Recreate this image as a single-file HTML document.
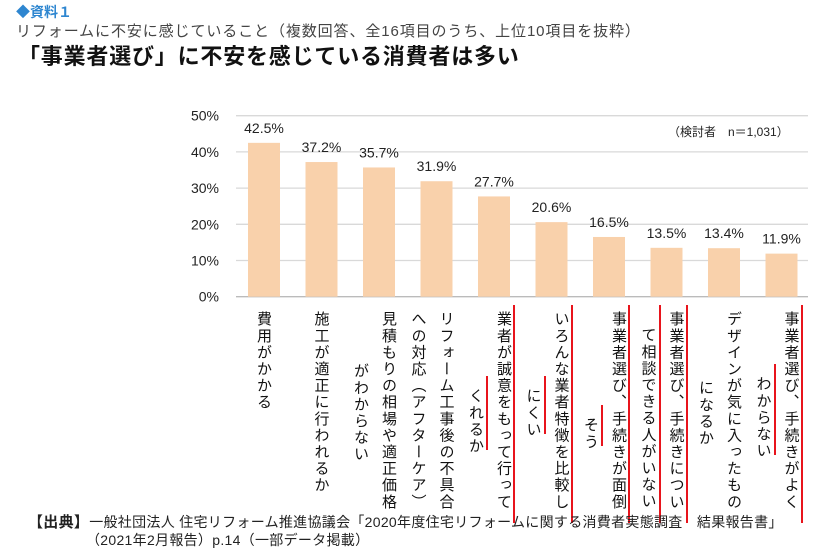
<!DOCTYPE html>
<html><head><meta charset="utf-8">
<style>
body{margin:0;width:840px;height:556px;background:#fff;overflow:hidden;font-family:"Liberation Sans","Noto Sans CJK JP",sans-serif;position:relative}
.t{position:absolute;white-space:nowrap}
.v{position:absolute;writing-mode:vertical-rl;font-size:15px;letter-spacing:1.6px;color:#111;white-space:nowrap;line-height:1}
.r{position:absolute;width:2px;background:#e8141c}
</style></head><body>
<div class="t" style="left:16px;top:2px;font-size:14px;font-weight:bold;color:#2e86d0">◆資料１</div>
<div class="t" style="left:16px;top:20px;font-size:15px;letter-spacing:0.9px;color:#444">リフォームに不安に感じていること（複数回答、全16項目のうち、上位10項目を抜粋）</div>
<div class="t" style="left:18px;top:39px;font-size:22px;letter-spacing:0.8px;font-weight:bold;color:#111">「事業者選び」に不安を感じている消費者は多い</div>
<svg id="chart" width="840" height="556" style="position:absolute;left:0;top:0"></svg>
<div class="t" style="left:668px;top:123px;font-size:12px;color:#222">（検討者　n＝1,031）</div>
<div id="labels"></div>
<div class="t" style="left:28px;top:511px;font-size:14px;letter-spacing:0.3px;color:#222"><b style="font-size:15px">【出典】</b>一般社団法人 住宅リフォーム推進協議会「2020年度住宅リフォームに関する消費者実態調査　結果報告書」</div>
<div class="t" style="left:86px;top:530px;font-size:14px;letter-spacing:0.3px;color:#222">（2021年2月報告）p.14（一部データ掲載）</div>
<script>
const categories=["費用がかかる","施工が適正に行われるか","見積もりの相場や適正価格がわからない","リフォーム工事後の不具合への対応（アフターケア）","業者が誠意をもって行ってくれるか","いろんな業者特徴を比較しにくい","事業者選び、手続きが面倒そう","事業者選び、手続きについて相談できる人がいない","デザインが気に入ったものになるか","事業者選び、手続きがよくわからない"];
const values=[42.5,37.2,35.7,31.9,27.7,20.6,16.5,13.5,13.4,11.9];
const valueLabels=["42.5%","37.2%","35.7%","31.9%","27.7%","20.6%","16.5%","13.5%","13.4%","11.9%"];
const ticks=[0,10,20,30,40,50];
const tickLabels=["0%","10%","20%","30%","40%","50%"];
const ns="http://www.w3.org/2000/svg";
const svg=document.getElementById('chart');
const y0=296.7,pxPer=3.62,x0=236,step=57.5,bw=32;
const yS=v=>y0-v*pxPer;
const xC=i=>x0+28+i*step;
function mk(t,a){const e=document.createElementNS(ns,t);for(const k in a)e.setAttribute(k,a[k]);svg.appendChild(e);return e;}
ticks.forEach((t,i)=>{
 const l=mk('line',{x1:x0,x2:808,y1:yS(t),y2:yS(t),stroke:i==0?'#bbb':'#d9d9d9','stroke-width':1.3});
 
 
 const tx=mk('text',{x:219,y:yS(t)+5,'text-anchor':'end','font-size':14,fill:'#222','font-family':'Liberation Sans, sans-serif'});
 tx.textContent=tickLabels[i];
 
 
});
values.forEach((v,i)=>{
 const r=mk('rect',{x:xC(i)-bw/2,y:yS(v),width:bw,height:y0-yS(v),fill:'#f9d1ab'});
 
 
 const tx=mk('text',{x:xC(i),y:yS(v)-10,'text-anchor':'middle','font-size':14,fill:'#222','font-family':'Liberation Sans, sans-serif'});
 tx.textContent=valueLabels[i];
 
 
});
const splits=[[6,0,0],[11,0,0],[12,52,0],[12,0,0],[12,77,1],[12,77,1],[12,106,1],[12,16,2],[12,69,0],[12,65,1]];
const L=document.getElementById('labels');
categories.forEach((c,i)=>{
 const cx=xC(i);
 const s=splits[i];
 const l1=c.slice(0,s[0]),l2=c.slice(s[0]);
 const a=document.createElement('div');a.className='v';a.textContent=l1;
 
 
 a.style.left=(l2?cx+2:cx-8)+'px';a.style.top='311px';L.appendChild(a);
 if(l2){const b=document.createElement('div');b.className='v';b.textContent=l2;
  
  
  b.style.left=(cx-26)+'px';b.style.top=(311+s[1])+'px';L.appendChild(b);}
 if(s[2]>0){
  const r=document.createElement('div');r.className='r';
  
  
  r.style.left=(cx+19)+'px';r.style.top='305px';r.style.height='218px';L.appendChild(r);
  const r2=document.createElement('div');r2.className='r';
  
  
  if(s[2]==2){r2.style.top='305px';r2.style.height='218px';}
  else{r2.style.top=(311+s[1]-12)+'px';r2.style.height=(l2.length*16.6+8)+'px';}
  r2.style.left=(cx-8)+'px';L.appendChild(r2);
 }
});
</script>
</body></html>
